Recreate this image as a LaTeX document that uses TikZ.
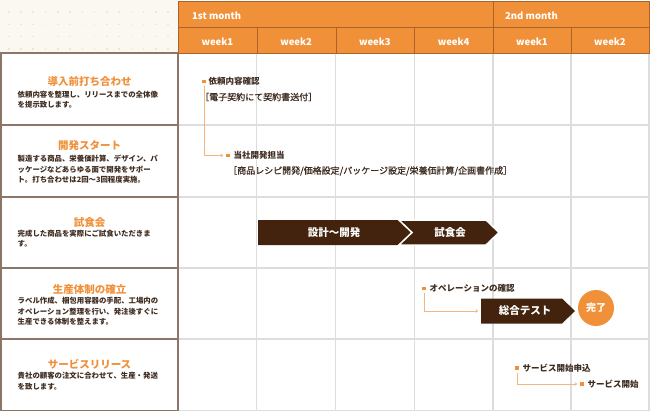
\documentclass[tikz,border=0pt]{standalone}
\usepackage{fontspec}
\setmainfont{Noto Sans CJK JP}
\newfontfamily\medjp[FakeBold=0.8]{Noto Sans CJK JP}
\usetikzlibrary{arrows.meta}
\definecolor{orng}{HTML}{F0913A}
\definecolor{hdrline}{HTML}{A9632C}
\definecolor{boxline}{HTML}{8C7667}
\definecolor{gridc}{HTML}{DDDDDD}
\definecolor{txtb}{HTML}{3E2C20}
\definecolor{chev}{HTML}{43230D}
\definecolor{flowc}{HTML}{F5B57E}
\definecolor{bgc}{HTML}{FBF8F2}
\definecolor{dotc}{HTML}{F6E4D0}
\begin{document}
\begin{tikzpicture}[x=1pt,y=-1pt,
  hdrcell/.style={draw=hdrline, fill=orng, line width=1pt, inner sep=0, anchor=north west},
  hdrtxt/.style={text=white, font=\fontsize{9.5}{11}\selectfont\bfseries, inner sep=0},
  ttl/.style={text=orng, font=\fontsize{10.5}{12}\selectfont\bfseries, inner sep=0, anchor=base},
  body/.style={text=txtb, font=\fontsize{7.4}{9}\selectfont\bfseries, inner sep=0, anchor=base west},
  lbl/.style={text=txtb, font=\fontsize{8.5}{10}\selectfont\bfseries, inner sep=0, anchor=base west},
  lblr/.style={text=txtb, font=\medjp\fontsize{9}{10}\selectfont, inner sep=0, anchor=base west},
  sq/.style={fill=orng, minimum size=3.5pt, inner sep=0},
  flow/.style={draw=flowc, line width=0.8pt, -{To[length=2.5pt,width=3.5pt]}},
  gridl/.style={draw=gridc, line width=1.1pt},
  boxl/.style={draw=boxline, line width=1.4pt},
  chevtxt/.style={text=white, inner sep=0, font=\fontsize{10.5}{12}\selectfont\bfseries},
]
\useasboundingbox (0,0) rectangle (650,412);
\fill[white] (0,0) rectangle (650,412);
% dotted corner
\fill[bgc] (0,0) rectangle (178,53);
\foreach \i in {0,...,13}{\foreach \j in {0,...,3}{
  \fill[dotc] ({8.7+12.27*\i-0.8},{12.2+12.2*\j-0.8}) rectangle ++(1.6,1.6);}}
% grid
\foreach \xx in {256.75,335.5,414.25,493,571,649}{\draw[gridl] (\xx,53) -- (\xx,410.5);}
\foreach \yy in {125,197,268,339,410.5}{\draw[gridl] (178,\yy) -- (649.5,\yy);}
% header
\node[hdrcell, minimum width=315pt, minimum height=26pt] (m1) at (178,1) {};
\node[hdrcell, minimum width=156pt, minimum height=26pt] (m2) at (493,1) {};
\node[hdrtxt, anchor=base west] (m1t) at (192,19.3) {1st month};
\node[hdrtxt, anchor=base west] (m2t) at (505,19.3) {2nd month};
\node[hdrcell, minimum width=78.75pt, minimum height=26pt] (w1) at (178,27) {};
\node[hdrcell, minimum width=78.75pt, minimum height=26pt] (w2) at (256.75,27) {};
\node[hdrcell, minimum width=78.75pt, minimum height=26pt] (w3) at (335.5,27) {};
\node[hdrcell, minimum width=78.75pt, minimum height=26pt] (w4) at (414.25,27) {};
\node[hdrcell, minimum width=78pt, minimum height=26pt] (w5) at (493,27) {};
\node[hdrcell, minimum width=78pt, minimum height=26pt] (w6) at (571,27) {};
\node[hdrtxt, anchor=base] (w1t) at (217.4,45.7) {week1};
\node[hdrtxt, anchor=base] (w2t) at (296.1,45.7) {week2};
\node[hdrtxt, anchor=base] (w3t) at (374.9,45.7) {week3};
\node[hdrtxt, anchor=base] (w4t) at (453.6,45.7) {week4};
\node[hdrtxt, anchor=base] (w5t) at (532,45.7) {week1};
\node[hdrtxt, anchor=base] (w6t) at (610,45.7) {week2};
% left column boxes
\draw[boxl] (0,53) -- (178,53);
\draw[boxl] (1,53) -- (1,410.5) -- (178,410.5) -- (178,53);
\foreach \yy in {125,197,268,339}{\draw[boxl] (1,\yy) -- (178,\yy);}
% row 1
\node[ttl] (r1t) at (89.5,85.7) {導入前打ち合わせ};
\node[body] (r1a) at (17.5,97.1) {依頼内容を整理し、リリースまでの全体像};
\node[body] (r1b) at (17.5,107.1) {を提示致します。};
% row 2
\node[ttl] (r2t) at (89.5,149.7) {開発スタート};
\node[body] (r2a) at (17.5,161.1) {製造する商品、栄養価計算、デザイン、パ};
\node[body] (r2b) at (17.5,172.1) {ッケージなどあらゆる面で開発をサポー};
\node[body] (r2c) at (17.5,182.1) {ト。打ち合わせは2回～3回程度実施。};
% row 3
\node[ttl] (r3t) at (89.5,226.3) {試食会};
\node[body] (r3a) at (17.5,236.1) {完成した商品を実際にご試食いただきま};
\node[body] (r3b) at (17.5,246.1) {す。};
% row 4
\node[ttl] (r4t) at (89.5,293) {生産体制の確立};
\node[body] (r4a) at (17.5,303.5) {ラベル作成、梱包用容器の手配、工場内の};
\node[body] (r4b) at (17.5,314.5) {オペレーション整理を行い、発注後すぐに};
\node[body] (r4c) at (17.5,324.5) {生産できる体制を整えます。};
% row 5
\node[ttl] (r5t) at (89.5,368) {サービスリリース};
\node[body] (r5a) at (17.5,378.8) {貴社の顧客の注文に合わせて、生産・発送};
\node[body] (r5b) at (17.5,389.5) {を致します。};
% chart row 1-2
\node[sq] (sq1) at (204,81.5) {};
\node[lbl] (c1a) at (208.5,84.7) {依頼内容確認};
\node[lblr] (c1b) at (200,100.4) {［電子契約にて契約書送付］};
\node[sq] (sq2) at (228,155.5) {};
\node[lbl] (c2a) at (233.5,158.7) {当社開発担当};
\node[lblr] (c2b) at (228,173.9) {［商品レシピ開発/価格設定/パッケージ設定/栄養価計算/企画書作成］};
\draw[flow, shorten <=3pt, shorten >=3pt] (sq1.south) |- (sq2);
% chart row 3
\fill[chev] (258,220) -- (398,220) -- (411,232.5) -- (398,245) -- (258,245) -- cycle;
\filldraw[fill=chev, draw=white, line width=1.5pt] (399,220) -- (486,220) -- (499,232.5) -- (486,245) -- (399,245) -- (412,232.5) -- cycle;
\node[chevtxt] (devt) at (334,232.5) {設計～開発};
\node[chevtxt] (tastt) at (450,232.5) {試食会};
% chart row 4
\node[sq] (sqA) at (424,288.5) {};
\node[lbl] (c4a) at (429.5,291.7) {オペレーションの確認};
\fill[chev] (481,298.5) -- (562,298.5) -- (575,311) -- (562,323.5) -- (481,323.5) -- cycle;
\coordinate (testw) at (481,311);
\node[chevtxt] (testt) at (525,311) {総合テスト};
\node[circle, fill=orng, minimum size=36pt, inner sep=0, text=white, font=\fontsize{10}{12}\selectfont\bfseries] (done) at (596,308) {完了};
\draw[flow, shorten <=3pt, shorten >=3pt] (sqA.south) |- (testw);
% chart row 5
\node[sq] (sqB) at (517,368) {};
\node[lbl] (c5a) at (522.5,371.2) {サービス開始申込};
\node[sq] (sqC) at (582,384) {};
\node[lbl] (c5b) at (587.5,387.2) {サービス開始};
\draw[flow, shorten <=3pt, shorten >=3pt] (sqB.south) |- (sqC);
\end{tikzpicture}
\end{document}
